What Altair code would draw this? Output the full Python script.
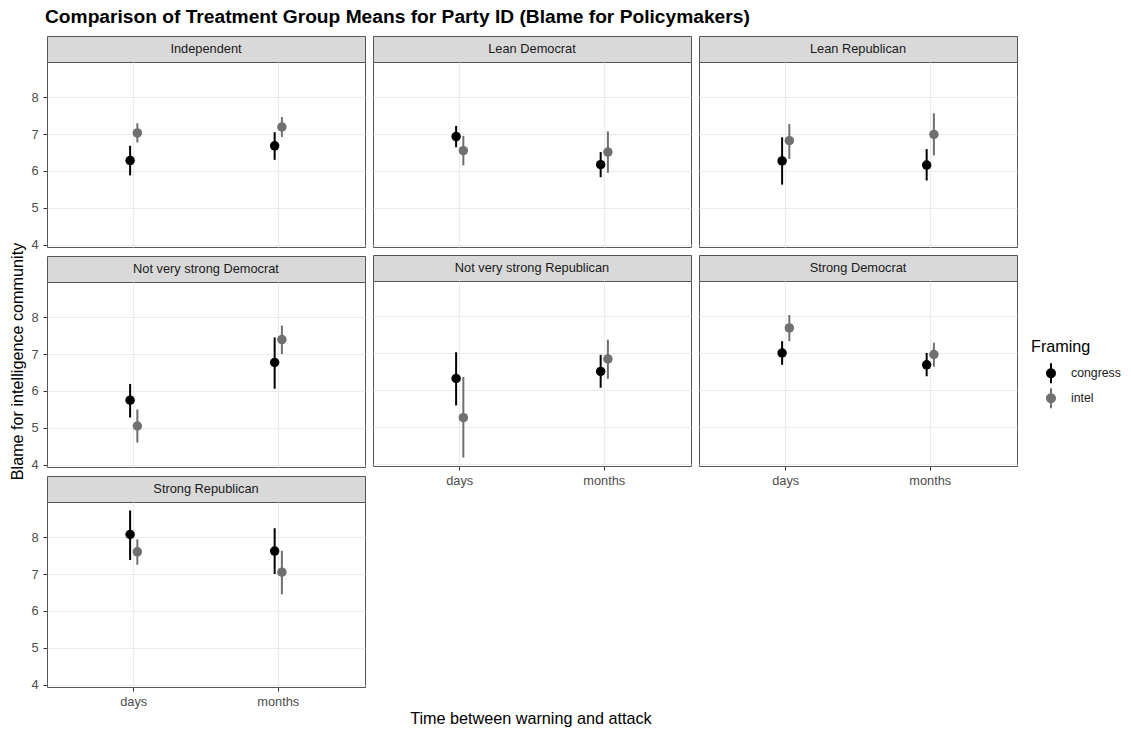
import altair as alt
import pandas as pd

# Group means with 95% intervals, by party ID, timing and framing
parties = [
    "Independent", "Lean Democrat", "Lean Republican",
    "Not very strong Democrat", "Not very strong Republican",
    "Strong Democrat", "Strong Republican",
]
timings = ["days", "months"]
framings = ["congress", "intel"]

# order within each party: (days, congress), (days, intel), (months, congress), (months, intel)
means = [
    6.28, 7.03, 6.68, 7.19,
    6.93, 6.55, 6.17, 6.51,
    6.27, 6.82, 6.16, 6.99,
    5.75, 5.05, 6.77, 7.39,
    6.31, 5.25, 6.50, 6.84,
    7.00, 7.68, 6.68, 6.96,
    8.07, 7.60, 7.62, 7.05,
]
lows = [
    5.88, 6.77, 6.30, 6.92,
    6.64, 6.15, 5.83, 5.95,
    5.63, 6.33, 5.74, 6.42,
    5.28, 4.60, 6.06, 7.00,
    5.58, 4.17, 6.06, 6.30,
    6.68, 7.32, 6.37, 6.63,
    7.38, 7.25, 7.00, 6.45,
]
highs = [
    6.68, 7.29, 7.05, 7.46,
    7.22, 6.95, 6.51, 7.07,
    6.91, 7.27, 6.59, 7.56,
    6.19, 5.50, 7.45, 7.77,
    7.02, 6.35, 6.95, 7.36,
    7.32, 8.03, 7.00, 7.28,
    8.72, 7.94, 8.24, 7.63,
]
y_ticks = [4, 4.5, 5, 5.5, 6, 6.5, 7, 7.5, 8, 8.5]

rows = []
i = 0
for p in parties:
    for t in timings:
        for f in framings:
            rows.append({"party": p, "timing": t, "framing": f,
                         "mean": means[i], "low": lows[i], "high": highs[i]})
            i += 1
df = pd.DataFrame(rows)

FONT = "Liberation Sans"
PW, PH, SH = 318, 185, 26
BORDER = "#555555"
SMALL, MEDIUM = 12.8, 16.2

color_scale = alt.Scale(domain=framings, range=["#000000", "#707070"])
y_scale = alt.Scale(domain=[3.94, 8.95], nice=False, zero=False)
x_scale = alt.Scale(domain=timings, paddingInner=0.9, paddingOuter=0.55)

pointrange_symbol = (
    "M-0.5,0A0.5,0.5,0,1,1,0.5,0A0.5,0.5,0,1,1,-0.5,0Z"
    "M-0.1,-1L0.1,-1L0.1,1L-0.1,1Z"
)

minor = "datum.value % 1 !== 0"


def y_axis(show_labels):
    return alt.Axis(
        title=None,
        values=y_ticks,
        grid=True,
        gridColor="#EBEBEB",
        gridWidth={"condition": {"test": minor, "value": 0.6}, "value": 1.1},
        domain=False,
        labelFont=FONT, labelFontSize=SMALL, labelColor="#4D4D4D",
        labelPadding=5,
        ticks=show_labels, labels=show_labels,
        tickColor="#333333", tickSize=4, tickWidth=1,
        tickOpacity={"condition": {"test": minor, "value": 0}, "value": 1},
        labelExpr=f"{minor} ? '' : datum.label",
    )


def x_axis(show_labels):
    return alt.Axis(
        title=None,
        grid=True, gridColor="#EBEBEB", gridWidth=1.1,
        bandPosition=0.5,
        domain=False, labelAngle=0,
        labelFont=FONT, labelFontSize=SMALL, labelColor="#4D4D4D",
        labelPadding=4,
        ticks=show_labels, labels=show_labels,
        tickColor="#333333", tickSize=4, tickWidth=1,
    )


def panel(idx, party):
    col = idx % 3
    bottom = idx >= 4  # last panel in each column
    base = alt.Chart(df).transform_filter(alt.datum.party == party)
    x_enc = alt.X("timing:N", scale=x_scale, axis=x_axis(bottom))
    xo = alt.XOffset("framing:N", sort=framings)
    col_enc = alt.Color(
        "framing:N", scale=color_scale, title="Framing",
        legend=alt.Legend(
            orient="none", legendX=1021, legendY=303,
            titleFont=FONT, titleFontSize=MEDIUM, titleFontWeight="normal",
            titleColor="#000000", titlePadding=8,
            labelFont=FONT, labelFontSize=12.3, labelColor="#1A1A1A",
            symbolType=pointrange_symbol, symbolSize=400,
            symbolStrokeWidth=0, rowPadding=5, symbolOffset=10,
            labelOffset=10,
        ),
    )
    rules = base.mark_rule(strokeWidth=2).encode(
        x=x_enc, xOffset=xo,
        y=alt.Y("low:Q", scale=y_scale, axis=y_axis(col == 0)),
        y2="high:Q",
        color=col_enc,
    )
    points = base.mark_point(filled=True, size=90, opacity=1, shape="circle").encode(
        x=x_enc, xOffset=xo,
        y=alt.Y("mean:Q", scale=y_scale),
        color=col_enc,
    )
    body = alt.layer(rules, points).properties(
        width=PW, height=PH,
        view=alt.ViewBackground(fill="white", stroke=BORDER, strokeWidth=1),
    )
    strip = alt.Chart(pd.DataFrame({"party": [party]})).mark_text(
        font=FONT, fontSize=SMALL, color="#1A1A1A"
    ).encode(text="party:N").properties(
        width=PW, height=SH,
        view=alt.ViewBackground(fill="#D9D9D9", stroke=BORDER, strokeWidth=1),
    )
    return alt.vconcat(strip, body, spacing=0, bounds="flush")


cells = [panel(i, p) for i, p in enumerate(parties)]
# panels fill the grid row by row; build it column by column
column_members = [[0, 3, 6], [1, 4], [2, 5]]
column_spacing = [2, 6, 6]  # first column carries the tick labels
columns = [
    alt.vconcat(*[cells[i] for i in m], spacing=s)
    for m, s in zip(column_members, column_spacing)
]

grid = alt.hconcat(*columns, spacing=6).properties(
    title=alt.Title(
        "Time between warning and attack", orient="bottom", anchor="middle",
        frame="bounds", font=FONT, fontSize=MEDIUM, fontWeight="normal",
        color="#000000", offset=3, dx=7,
    )
)

# shared y-axis title, centred on the whole panel grid
y_title = alt.Chart(
    pd.DataFrame({"label": ["Blame for intelligence community"]})
).mark_text(
    font=FONT, fontSize=MEDIUM, color="#000000", angle=270
).encode(text="label:N").properties(
    width=16, height=3 * SH + 3 * PH + 2 * 9,
    view=alt.ViewBackground(fill="white", stroke="white", strokeWidth=0),
)

chart = alt.hconcat(y_title, grid, spacing=3).properties(
    title=alt.Title(
        "Comparison of Treatment Group Means for Party ID (Blame for Policymakers)",
        font=FONT, fontSize=19.2, fontWeight="bold", color="#000000",
        anchor="start", frame="group", offset=8, dx=35,
    ),
    padding={"left": 10, "top": 8, "right": 0, "bottom": 0},
).configure(background="white").configure_view(stroke=None)

chart.save("out.html", embed_options={"renderer": "svg", "actions": False})
